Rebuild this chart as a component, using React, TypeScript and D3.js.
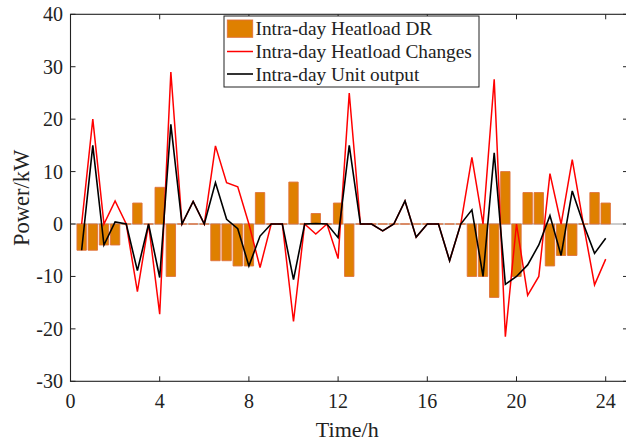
import React from "react";
import * as d3 from "d3";

// Half-hourly time stamps (h)
const hours = [
  0.5, 1, 1.5, 2, 2.5, 3, 3.5, 4, 4.5, 5, 5.5, 6, 6.5, 7, 7.5, 8, 8.5, 9, 9.5, 10,
  10.5, 11, 11.5, 12, 12.5, 13, 13.5, 14, 14.5, 15, 15.5, 16, 16.5, 17, 17.5, 18,
  18.5, 19, 19.5, 20, 20.5, 21, 21.5, 22, 22.5, 23, 23.5, 24,
];

// Intra-day heat-load demand response (kW)
const heatloadDR = [
  -5, -5, -4, -4, 0, 4, 0, 7, -10, 0, 0, 0, -7, -7, -8, -8, 6, 0, 0, 8,
  0, 2, 0, 4, -10, 0, 0, 0, 0, 0, 0, 0, 0, 0, 0, -10,
  -10, -14, 10, -10, 6, 6, -8, -6, -6, 0, 6, 4,
];

// Intra-day heat-load changes (kW)
const heatloadChanges = [
  0, 20, 0, 4.4, 0, -12.9, 0, -17.2, 29, 0, 4.3, 0, 14.9, 7.9, 7.1, 0, -8.3, 0, 0, -18.6,
  0, -1.9, 0, -6.6, 25, 0, 0, -1.3, 0, 4.4, -2.5, 0, 0, -7, 0, 12.7,
  0, 27.6, -21.5, 0, -13.6, -10, 9.6, 0, 12.3, 0, -11.6, -6.7,
];

// Intra-day unit output (kW)
const unitOutput = [
  -5, 15, -4, 0.4, 0, -8.9, 0, -10.2, 19, 0, 4.3, 0, 7.9, 0.9, -0.9, -8, -2.3, 0, 0, -10.6,
  0, 0.1, 0, -2.6, 15, 0, 0, -1.3, 0, 4.4, -2.5, 0, 0, -7, 0, 2.7,
  -10, 13.6, -11.5, -10, -7.8, -4, 1.6, -6, 6.3, 0, -5.6, -2.7,
];

const xTicks = [0, 4, 8, 12, 16, 20, 24];
const yTicks = [-30, -20, -10, 0, 10, 20, 30, 40];
const legendLabels = [
  "Intra-day Heatload DR",
  "Intra-day Heatload Changes",
  "Intra-day Unit output",
];

const W = 626;
const H = 441;
const FONT = "'Liberation Serif', 'Times New Roman', serif";
const BAR_FILL = "#df8000";
const BAR_EDGE = "#e0703a";

export default function App() {
  const x = d3.scaleLinear().domain([0, 25]).range([70.5, 628]);
  const y = d3.scaleLinear().domain([-30, 40]).range([381.3, 14.3]);
  const left = x(0);
  const right = x(25);
  const top = y(40);
  const bottom = y(-30);
  const tickLen = 5;
  const barW = x(0.42) - x(0);

  const line = d3
    .line<number>()
    .x((_, i) => x(hours[i]))
    .y((d) => y(d));

  const barPath = (t: number, v: number) => {
    const x0 = x(t) - barW / 2;
    const x1 = x(t) + barW / 2;
    const y0 = y(0);
    const y1 = y(v);
    return `M${x0},${y0}H${x1}V${y1}H${x0}Z`;
  };

  const lx0 = 224;
  const ly0 = 16;
  const rowY = [28.7, 51.5, 74];

  return (
    <svg
      width={W}
      height={H}
      style={{ position: "absolute", left: 0, top: 0, background: "#fff" }}
      fontFamily={FONT}
    >
      <rect x={0} y={0} width={W} height={H} fill="#fff" />

      {/* bar baseline */}
      <line x1={left} x2={right} y1={y(0)} y2={y(0)} stroke="#9a9a9a" strokeWidth={1} />

      {/* demand-response bars */}
      {hours.map((t, i) => (
        <path
          key={`b${i}`}
          d={barPath(t, heatloadDR[i])}
          fill={BAR_FILL}
          stroke={BAR_EDGE}
          strokeWidth={0.9}
        />
      ))}

      {/* heat-load changes and unit output */}
      <path d={line(heatloadChanges) || ""} fill="none" stroke="#ff0000" strokeWidth={1.5} />
      <path d={line(unitOutput) || ""} fill="none" stroke="#000" strokeWidth={1.6} />

      {/* axes box */}
      <rect
        x={left}
        y={top}
        width={right - left}
        height={bottom - top}
        fill="none"
        stroke="#222"
        strokeWidth={1.1}
      />
      {xTicks.map((t) => (
        <g key={`xt${t}`}>
          <line x1={x(t)} x2={x(t)} y1={bottom} y2={bottom - tickLen} stroke="#222" strokeWidth={1} />
          <line x1={x(t)} x2={x(t)} y1={top} y2={top + tickLen} stroke="#222" strokeWidth={1} />
          <text x={x(t)} y={408} textAnchor="middle" fontSize={20} fill="#222">
            {t}
          </text>
        </g>
      ))}
      {yTicks.map((v) => (
        <g key={`yt${v}`}>
          <line x1={left} x2={left + tickLen} y1={y(v)} y2={y(v)} stroke="#222" strokeWidth={1} />
          <line x1={right} x2={right - tickLen} y1={y(v)} y2={y(v)} stroke="#222" strokeWidth={1} />
          <text x={63} y={y(v) + 7} textAnchor="end" fontSize={20} fill="#222">
            {v}
          </text>
        </g>
      ))}

      <text x={(left + right) / 2 - 2} y={437} textAnchor="middle" fontSize={22} fill="#222">
        Time/h
      </text>
      <text
        transform={`translate(29,${(top + bottom) / 2}) rotate(-90)`}
        textAnchor="middle"
        fontSize={22.5}
        fill="#222"
      >
        Power/kW
      </text>

      {/* legend */}
      <rect x={lx0} y={ly0} width={479 - lx0} height={87 - ly0} fill="#fff" stroke="#222" strokeWidth={1} />
      <rect x={227.3} y={20} width={25.4} height={17.3} fill={BAR_FILL} stroke={BAR_EDGE} strokeWidth={0.9} />
      <line x1={227} x2={253} y1={rowY[1]} y2={rowY[1]} stroke="#ff0000" strokeWidth={1.5} />
      <line x1={227} x2={253} y1={rowY[2]} y2={rowY[2]} stroke="#000" strokeWidth={1.6} />
      {legendLabels.map((s, i) => (
        <text key={s} x={255.5} y={rowY[i] + 6.6} fontSize={19.3} fill="#222">
          {s}
        </text>
      ))}
    </svg>
  );
}
